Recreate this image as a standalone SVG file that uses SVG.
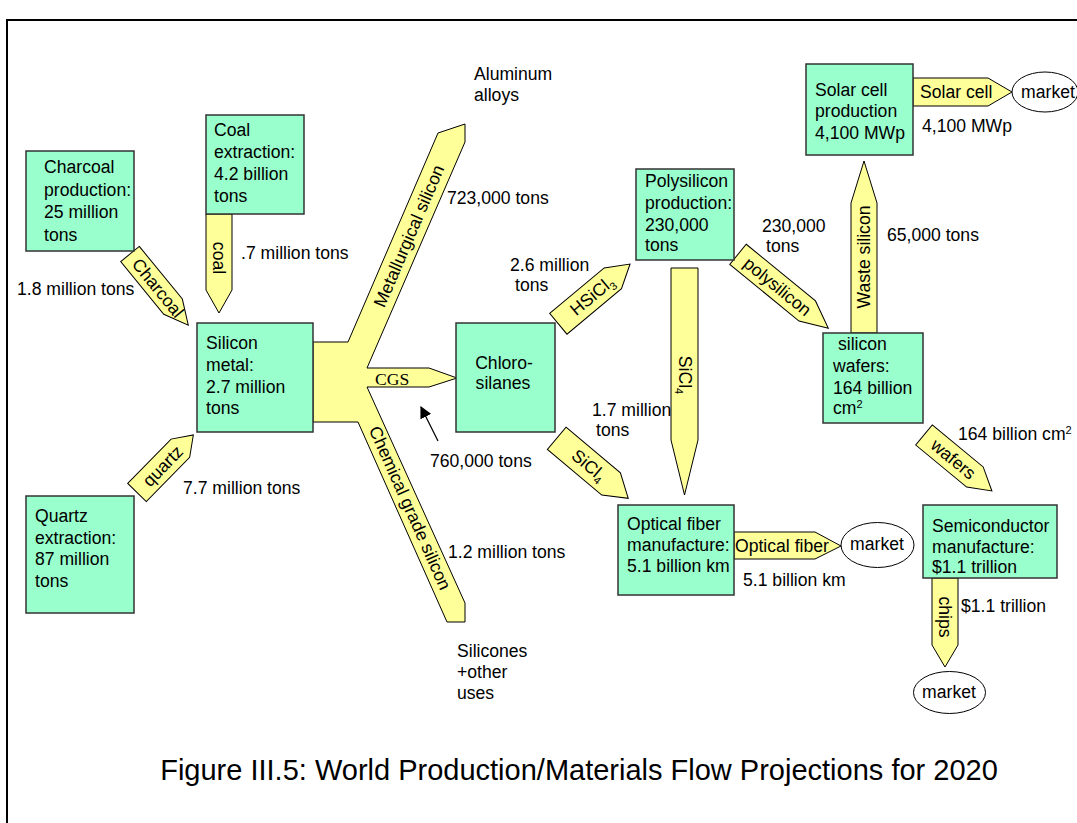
<svg xmlns="http://www.w3.org/2000/svg" width="1077" height="823" viewBox="0 0 1077 823">
<defs>
<style>
text{font-family:"Liberation Sans",Arial,sans-serif;font-size:17.6px;fill:#000}
.box{fill:#99ffcc;stroke:#333;stroke-width:1.5}
.arr{fill:#ffff99;stroke:#000;stroke-width:1}
.mk{fill:#fff;stroke:#000;stroke-width:1}
.c{text-anchor:middle}
.serif{font-family:"Liberation Serif","Times New Roman",serif}
.cap{font-size:29px}
</style>
<marker id="ah" viewBox="0 0 10 10" refX="9" refY="5" markerWidth="12" markerHeight="12" markerUnits="userSpaceOnUse" orient="auto">
<path d="M0,0 L10,5 L0,10 z" fill="#000"/>
</marker>
</defs>
<rect width="1077" height="823" fill="#fff"/>
<path d="M7,823 V20 H1077" fill="none" stroke="#000" stroke-width="2"/>

<g id="connectors">
  <!-- hub with metallurgical, CGS and chemical grade branches -->
  <polygon class="arr" points="313,342 348,342 438,133 465,124 465,142 367,368 429,368 457,378 429,387 367,387 465,603 465,622 447,622 358,422 313,422"/>
  <text transform="translate(409,236) rotate(-66.7)" class="c" dy="6">Metallurgical silicon</text>
  <text class="serif" x="375" y="385" font-size="17">CGS</text>
  <text transform="translate(410,508) rotate(66)" class="c" dy="6">Chemical grade silicon</text>

  <!-- charcoal -->
  <g transform="translate(130,254) rotate(50.7)">
    <polygon class="arr" points="0,-12 68,-12 92,0 68,12 0,12"/>
    <text x="44" y="6" class="c">Charcoal</text>
  </g>
  <!-- coal -->
  <polygon class="arr" points="206,214 232,214 232,290 219,313 206,290"/>
  <text transform="translate(219,258) rotate(90)" class="c" dy="6">coal</text>
  <!-- quartz -->
  <g transform="translate(137,492.5) rotate(-45.6)">
    <polygon class="arr" points="0,-13 62,-13 80.5,0 62,13 0,13"/>
    <text x="37" y="6" class="c">quartz</text>
  </g>
  <!-- HSiCl3 -->
  <g transform="translate(558.3,323.8) rotate(-39.8)">
    <polygon class="arr" points="0,-13.5 71,-13.5 93.4,0 71,13.5 0,13.5"/>
    <text x="44" y="6" class="c">HSiCl<tspan dy="4" font-size="11">3</tspan></text>
  </g>
  <!-- SiCl4 diagonal -->
  <g transform="translate(556.7,438.3) rotate(40)">
    <polygon class="arr" points="0,-14.5 71,-14.5 93.4,0 71,14.5 0,14.5"/>
    <text x="42" y="6" class="c">SiCl<tspan dy="4" font-size="11">4</tspan></text>
  </g>
  <!-- SiCl4 vertical -->
  <polygon class="arr" points="671,268 698,268 698,440 684.5,495 671,440"/>
  <text transform="translate(684.5,375) rotate(90)" class="c" dy="6">SiCl<tspan dy="4" font-size="11">4</tspan></text>
  <!-- polysilicon -->
  <g transform="translate(738,254.3) rotate(39.3)">
    <polygon class="arr" points="0,-13 89.5,-13 116.7,0 89.5,13 0,13"/>
    <text x="51" y="6" class="c">polysilicon</text>
  </g>
  <!-- waste silicon -->
  <polygon class="arr" points="851,333 877,333 877,203 864,161 851,203"/>
  <text transform="translate(864,257) rotate(-90)" class="c" dy="6">Waste silicon</text>
  <!-- solar cell -->
  <polygon class="arr" points="913,78 988,78 1012,92 988,106 913,106"/>
  <text x="920" y="98">Solar cell</text>
  <!-- wafers -->
  <g transform="translate(924,435) rotate(39.5)">
    <polygon class="arr" points="0,-13 66,-13 88,0 66,13 0,13"/>
    <text x="38" y="6" class="c">wafers</text>
  </g>
  <!-- optical fiber -->
  <polygon class="arr" points="734,532 815,532 841,546 815,559 734,559"/>
  <text x="735" y="552">Optical fiber</text>
  <!-- chips -->
  <polygon class="arr" points="932,578 958,578 958,645 945,667 932,645"/>
  <text transform="translate(945,617) rotate(90)" class="c" dy="6">chips</text>
  <!-- pointer for 760,000 tons -->
  <line x1="438" y1="441" x2="421" y2="407" stroke="#000" stroke-width="1.3" marker-end="url(#ah)"/>
</g>

<g id="charcoal">
  <rect class="box" x="26" y="151" width="108" height="100"/>
  <text x="44" y="173">Charcoal</text>
  <text x="44" y="195.5">production:</text>
  <text x="44" y="218">25 million</text>
  <text x="44" y="240.5">tons</text>
</g>
<g id="coal">
  <rect class="box" x="206" y="115" width="98" height="99"/>
  <text x="214" y="136">Coal</text>
  <text x="214" y="158">extraction:</text>
  <text x="214" y="180">4.2 billion</text>
  <text x="214" y="202">tons</text>
</g>
<g id="quartz">
  <rect class="box" x="26" y="496" width="108" height="117"/>
  <text x="35" y="522">Quartz</text>
  <text x="35" y="543.5">extraction:</text>
  <text x="35" y="565">87 million</text>
  <text x="35" y="587">tons</text>
</g>
<g id="silicon-metal">
  <rect class="box" x="197" y="323" width="116" height="109"/>
  <text x="206" y="349">Silicon</text>
  <text x="206" y="371">metal:</text>
  <text x="206" y="393">2.7 million</text>
  <text x="206" y="414">tons</text>
</g>
<g id="chlorosilanes">
  <rect class="box" x="456" y="323" width="99" height="109"/>
  <text x="504" y="369" class="c">Chloro-</text>
  <text x="503" y="389" class="c">silanes</text>
</g>
<g id="polysilicon">
  <rect class="box" x="636" y="169" width="98" height="91"/>
  <text x="645" y="187">Polysilicon</text>
  <text x="645" y="209">production:</text>
  <text x="645" y="231">230,000</text>
  <text x="645" y="251">tons</text>
</g>
<g id="solar-cell">
  <rect class="box" x="806" y="64" width="107" height="91"/>
  <text x="815" y="96">Solar cell</text>
  <text x="815" y="117">production</text>
  <text x="815" y="139">4,100 MWp</text>
</g>
<g id="market-solar">
  <ellipse class="mk" cx="1045" cy="92" rx="33" ry="20"/>
  <text x="1048" y="98" class="c">market</text>
</g>
<g id="silicon-wafers">
  <rect class="box" x="823" y="333" width="100" height="90"/>
  <text x="838" y="350">silicon</text>
  <text x="833" y="372">wafers:</text>
  <text x="833" y="394">164 billion</text>
  <text x="833" y="414">cm<tspan dy="-6" font-size="11">2</tspan></text>
</g>
<g id="optical-fiber">
  <rect class="box" x="618" y="505" width="116" height="90"/>
  <text x="627" y="530">Optical fiber</text>
  <text x="627" y="551">manufacture:</text>
  <text x="627" y="572">5.1 billion km</text>
</g>
<g id="market-fiber">
  <ellipse class="mk" cx="877.5" cy="545" rx="36.5" ry="22.5"/>
  <text x="877" y="550" class="c">market</text>
</g>
<g id="semiconductor">
  <rect class="box" x="923" y="505" width="134" height="73"/>
  <text x="932" y="532">Semiconductor</text>
  <text x="932" y="553">manufacture:</text>
  <text x="932" y="573">$1.1 trillion</text>
</g>
<g id="market-chips">
  <ellipse class="mk" cx="949.5" cy="692.5" rx="36" ry="21"/>
  <text x="949" y="698" class="c">market</text>
</g>

<g id="labels">
  <text x="17" y="295">1.8 million tons</text>
  <text x="241" y="259">.7 million tons</text>
  <text x="183" y="494">7.7 million tons</text>
  <text x="474" y="80">Aluminum</text>
  <text x="474" y="101">alloys</text>
  <text x="447" y="204">723,000 tons</text>
  <text x="430" y="467">760,000 tons</text>
  <text x="448" y="558">1.2 million tons</text>
  <text x="457" y="657">Silicones</text>
  <text x="457" y="678">+other</text>
  <text x="457" y="699">uses</text>
  <text x="510" y="271">2.6 million</text>
  <text x="515" y="291">tons</text>
  <text x="592" y="416">1.7 million</text>
  <text x="596" y="436">tons</text>
  <text x="762" y="232">230,000</text>
  <text x="766" y="252">tons</text>
  <text x="922" y="132">4,100 MWp</text>
  <text x="887" y="241">65,000 tons</text>
  <text x="958" y="440">164 billion cm<tspan dy="-6" font-size="11">2</tspan></text>
  <text x="743" y="586">5.1 billion km</text>
  <text x="961" y="612">$1.1 trillion</text>
  <text x="579" y="780" class="c cap">Figure III.5: World Production/Materials Flow Projections for 2020</text>
</g>
</svg>
